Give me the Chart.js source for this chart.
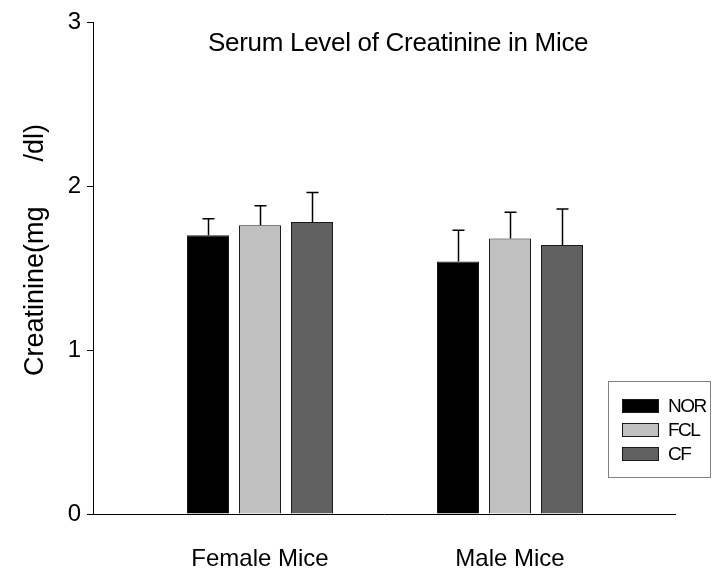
<!DOCTYPE html>
<html>
<head>
<meta charset="utf-8">
<title>Serum Level of Creatinine in Mice</title>
<style>
  html, body { margin: 0; padding: 0; background: #ffffff; }
  #wrap { width: 713px; height: 569px; }
</style>
<script src="https://cdn.jsdelivr.net/npm/chart.js@4/dist/chart.umd.min.js"></script>
</head>
<body>
<div id="wrap"><canvas id="chart" width="713" height="569"></canvas></div>
<script>
// Groups along the x axis and the three treatment series
const categories = ['Female Mice', 'Male Mice'];
const seriesNames = ['NOR', 'FCL', 'CF'];

// Mean serum creatinine (mg/dl) and upper error (SD) per group
const norValues = [1.70, 1.54];
const norErrors = [0.10, 0.19];
const fclValues = [1.76, 1.68];
const fclErrors = [0.12, 0.16];
const cfValues  = [1.78, 1.64];
const cfErrors  = [0.18, 0.22];

const yTickValues = [0, 1, 2, 3];

const chartTitle = 'Serum Level of Creatinine in Mice';
const yAxisTitle = 'Creatinine(mg      /dl)';

const FONT = "'Liberation Sans', Arial, Helvetica, sans-serif";
const seriesColors = ['#000000', '#c0c0c0', '#606060'];

function toPoints(values) {
  return values.map((v, i) => ({ x: i, y: v }));
}

const seriesValues = [norValues, fclValues, cfValues];
const seriesErrors = [norErrors, fclErrors, cfErrors];

const datasets = seriesNames.map((name, s) => ({
  label: name,
  data: toPoints(seriesValues[s]),
  errors: seriesErrors[s],
  backgroundColor: seriesColors[s],
  borderColor: '#1a1a1a',
  borderWidth: 1,
  categoryPercentage: 0.624,
  barPercentage: 0.808
}));

// Upward-only error bars with a short cap
const errorBars = {
  id: 'errorBars',
  afterDatasetsDraw(chart) {
    const ctx = chart.ctx;
    const yScale = chart.scales.y;
    ctx.save();
    ctx.strokeStyle = '#000000';
    ctx.lineWidth = 1.5;
    chart.data.datasets.forEach((ds, di) => {
      const meta = chart.getDatasetMeta(di);
      meta.data.forEach((bar, i) => {
        const v = ds.data[i].y;
        const e = ds.errors[i];
        const top = yScale.getPixelForValue(v + e);
        const x = Math.round(bar.x) + 0.5;
        ctx.beginPath();
        ctx.moveTo(x, bar.y);
        ctx.lineTo(x, top);
        ctx.moveTo(x - 6, top);
        ctx.lineTo(x + 6, top);
        ctx.stroke();
      });
    });
    ctx.restore();
  }
};

// Chart title and rotated y-axis title
const titles = {
  id: 'titles',
  afterDraw(chart) {
    const ctx = chart.ctx;
    const ca = chart.chartArea;
    ctx.save();
    ctx.fillStyle = '#000000';
    ctx.font = '26px ' + FONT;
    ctx.letterSpacing = '-0.3px';
    ctx.textAlign = 'left';
    ctx.textBaseline = 'alphabetic';
    ctx.fillText(chartTitle, ca.left + 115, ca.top + 29);
    ctx.letterSpacing = '0px';

    ctx.font = '27px ' + FONT;
    ctx.textAlign = 'center';
    ctx.translate(43, ca.top + 228);
    ctx.rotate(-Math.PI / 2);
    ctx.fillText(yAxisTitle, 0, 0);
    ctx.restore();
  }
};

// Boxed legend at the lower right
const boxLegend = {
  id: 'boxLegend',
  afterDraw(chart) {
    const ctx = chart.ctx;
    const ca = chart.chartArea;
    const boxLeft = ca.right - 67;
    const boxTop = ca.bottom - 133;
    const boxW = 102, boxH = 96;
    ctx.save();
    ctx.strokeStyle = '#808080';
    ctx.lineWidth = 1;
    ctx.strokeRect(boxLeft + 0.5, boxTop + 0.5, boxW, boxH);
    ctx.font = '19px ' + FONT;
    ctx.letterSpacing = '-1.5px';
    ctx.textAlign = 'left';
    ctx.textBaseline = 'middle';
    chart.data.datasets.forEach((ds, i) => {
      const sy = boxTop + 18 + i * 24;
      ctx.fillStyle = ds.backgroundColor;
      ctx.fillRect(boxLeft + 14, sy, 37, 14);
      ctx.strokeStyle = '#1a1a1a';
      ctx.strokeRect(boxLeft + 14.5, sy + 0.5, 36, 13);
      ctx.fillStyle = '#000000';
      ctx.fillText(ds.label, boxLeft + 60, sy + 8);
    });
    ctx.restore();
  }
};

new Chart(document.getElementById('chart'), {
  type: 'bar',
  data: { datasets },
  options: {
    responsive: false,
    devicePixelRatio: 1,
    animation: false,
    layout: { padding: { top: 22, right: 38, bottom: 0, left: 0 } },
    plugins: {
      legend: { display: false },
      title: { display: false },
      tooltip: { enabled: false }
    },
    scales: {
      x: {
        type: 'linear',
        offset: false,
        min: -0.668,
        max: 1.66,
        afterBuildTicks(scale) {
          scale.ticks = categories.map((_, i) => ({ value: i }));
        },
        afterFit(scale) { scale.height = 55; },
        grid: { display: false },
        border: { display: true, color: '#000000', width: 1 },
        ticks: {
          callback: (v) => categories[v] ?? '',
          color: '#000000',
          font: { family: FONT, size: 24 },
          padding: 23,
          maxRotation: 0,
          autoSkip: false
        }
      },
      y: {
        min: 0,
        max: 3,
        afterBuildTicks(scale) {
          scale.ticks = yTickValues.map(v => ({ value: v }));
        },
        afterFit(scale) { scale.width = 93; },
        grid: {
          display: true,
          drawOnChartArea: false,
          drawTicks: true,
          tickLength: 6,
          color: '#000000',
          lineWidth: 1
        },
        border: { display: true, color: '#000000', width: 1 },
        ticks: {
          color: '#000000',
          font: { family: FONT, size: 24 },
          padding: 6
        }
      }
    }
  },
  plugins: [errorBars, titles, boxLegend]
});
</script>
</body>
</html>
